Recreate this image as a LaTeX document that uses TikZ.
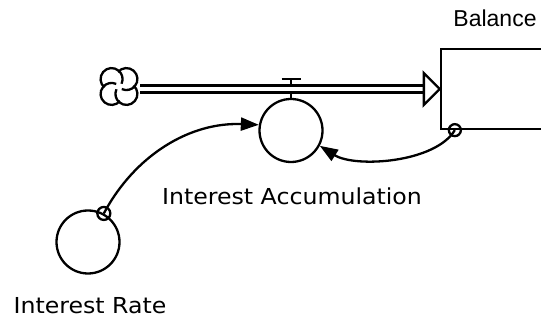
\documentclass[tikz,border=0pt]{standalone}
\usepackage{fontspec}
\setmainfont{DejaVu Sans}
\newfontfamily\balfont{Liberation Sans}
\usetikzlibrary{arrows.meta}
\tikzset{
  lw/.style={line width=2.3pt},
  aux/.style={draw, circle, lw, minimum size=63pt, inner sep=0pt},
  stockbox/.style={draw, rectangle, lw, minimum width=120pt, minimum height=80pt, inner sep=0pt},
  pipe/.style={line width=2.6pt, double=white, double distance=4.6pt},
  link/.style={lw, -{Triangle[length=18pt,width=13pt]}},
  lbl/.style={inner sep=0pt, anchor=base, font=\fontsize{22}{26}\selectfont},
}
\newcommand{\wide}[1]{\scalebox{1.075}[1]{#1}}
\begin{document}
\begin{tikzpicture}[x=1pt,y=-1pt]
\useasboundingbox (0,0) rectangle (541,320);
% stock
\node[stockbox] (balance) at (501,89) {};
\node[inner sep=0pt, anchor=base, font=\balfont\fontsize{23}{27}\selectfont] (ballbl) at (495,27) {Balance};
% cloud
\node[minimum size=42pt, inner sep=0pt] (cloud) at (119,86.5) {};
\foreach \a in {45,135,225,315}{
  \draw[lw] ([shift={(\a:10.5)}]cloud.center) ++(\a-95:11) arc[start angle=\a-95, end angle=\a+160, radius=11];
}
% auxiliaries
\node[aux] (acc) at (291,130.5) {};
\node[lbl] (acclbl) at (292,205) {\wide{Interest Accumulation}};
\node[aux] (rate) at (88,242) {};
\node[lbl] (ratelbl) at (90,314) {\wide{Interest Rate}};
% valve
\coordinate (vtop) at ([yshift=19pt]acc.north);
\draw[lw] (acc.north) -- (vtop);
\draw[lw] ([xshift=-9.5pt]vtop) -- ([xshift=9.5pt]vtop);
% pipe
\draw[pipe] (cloud.east |- balance.west) -- ([xshift=-16pt]balance.west);
\draw[lw, fill=white, line join=miter] ([xshift=-16pt,yshift=16pt]balance.west) -- (balance.west) -- ([xshift=-16pt,yshift=-16pt]balance.west) -- cycle;
% connectors
\coordinate (rout) at (rate.61);
\draw[lw] (rout) circle[radius=6.5];
\draw[link] (rout) .. controls (135,155) and (190,122) .. (acc.170);
\coordinate (bout) at ([xshift=15pt]balance.south west);
\draw[lw] (bout) circle[radius=6];
\draw[link] (bout) .. controls (435,163) and (355,168) .. (acc.-28);
\end{tikzpicture}
\end{document}
